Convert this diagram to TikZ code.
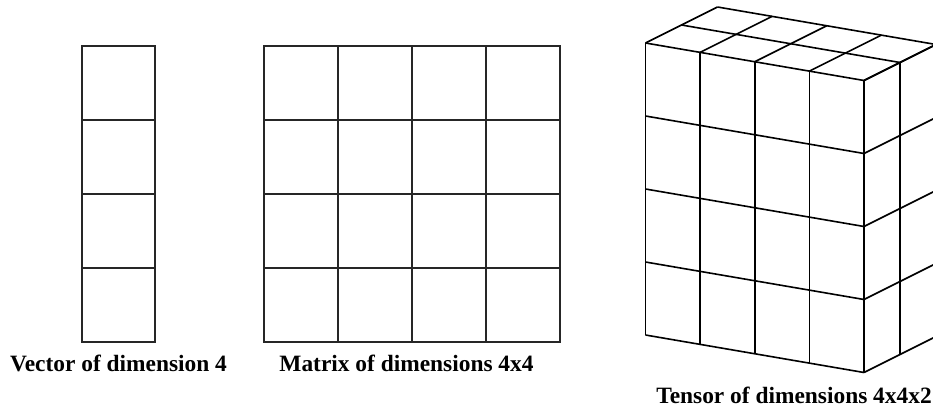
\documentclass[tikz,border=0pt]{standalone}
\usepackage{fontspec}
\setmainfont{Liberation Serif}
\usetikzlibrary{calc}
\begin{document}
\begin{tikzpicture}[x=1pt,y=-1pt,
  gridline/.style={line width=1.7pt,draw=black!85},
  cubeline/.style={line width=1.6pt,draw=black,line join=miter},
  caption/.style={anchor=base,font=\fontsize{23.4}{27}\selectfont\bfseries,inner sep=0pt}]
\useasboundingbox[fill=white] (0,0) rectangle (933,410);
% vector
\draw[gridline] (82,46) rectangle (155,342);
\foreach \y in {120,194,268} \draw[gridline] (82,\y) -- (155,\y);
% matrix
\draw[gridline] (264,46) rectangle (560,342);
\foreach \t in {338,412,486} \draw[gridline] (\t,46) -- (\t,342);
\foreach \t in {120,194,268} \draw[gridline] (264,\t) -- (560,\t);
% tensor: front face origin A, u along width, v along height, w depth
\coordinate (A) at (645.5,43);
\foreach \i in {0,...,4}{
  % vertical lines of front face
  \draw[cubeline] ($(A)+\i*(54.625,9.375)$) -- ++(0,292);
  % horizontal lines of front face
  \draw[cubeline] ($(A)+\i*(0,73)$) -- ++(218.5,37.5);
  % depth lines on top face
  \draw[cubeline] ($(A)+\i*(54.625,9.375)$) -- ++(72,-36);
  % depth lines on right face
  \draw[cubeline] ($(A)+(218.5,37.5)+\i*(0,73)$) -- ++(72,-36);
}
\foreach \j in {1,2}{
  \draw[cubeline] ($(A)+\j*(36,-18)$) -- ++(218.5,37.5);
  \draw[cubeline] ($(A)+(218.5,37.5)+\j*(36,-18)$) -- ++(0,292);
}
\node[caption] (cv) at (118.5,371) {Vector of dimension 4};
\node[caption] (cm) at (406.5,371) {Matrix of dimensions 4x4};
\node[caption] (ct) at (794,403) {Tensor of dimensions 4x4x2};
\end{tikzpicture}
\end{document}
